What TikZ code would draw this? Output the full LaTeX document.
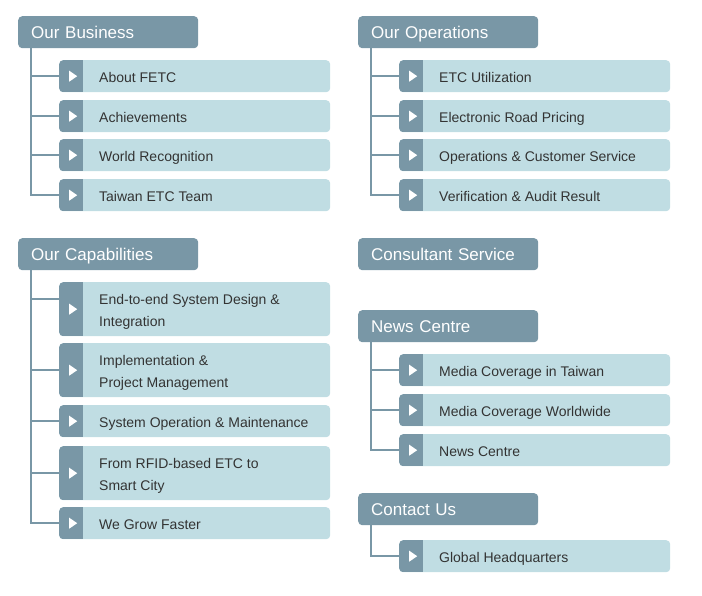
\documentclass[tikz,border=0pt]{standalone}
\usepackage{fontspec}
\setmainfont{Liberation Sans}
\definecolor{hdrc}{RGB}{121,151,166}
\definecolor{itmc}{RGB}{192,221,227}
\definecolor{txtc}{RGB}{51,51,51}
\newcommand\mkitem[5]{%
  \node[itembg, minimum height=#4pt] (#1) at (#2,#3) {};
  \node[itemtxt] (#1t) at ([xshift=40pt,yshift=-1.5pt]#1.west) {\strut #5\strut};
}
\begin{document}
\begin{tikzpicture}[x=1pt,y=-1pt,
  hdr/.style={anchor=north west, rounded corners=4pt, fill=hdrc, text=white,
    font=\fontsize{17}{30}\selectfont, text width=154pt, inner xsep=13pt, inner ysep=0pt,
    minimum height=32pt, align=left, execute at begin node=\strut},
  itembg/.style={anchor=north west, rounded corners=4pt, fill=itmc, minimum width=271pt, inner sep=0pt,
    path picture={
      \fill[hdrc, sharp corners] (path picture bounding box.south west) rectangle ([xshift=24pt]path picture bounding box.north west);
      \fill[white, sharp corners] ([xshift=10pt,yshift=5.5pt]path picture bounding box.west) -- ([xshift=18pt]path picture bounding box.west) -- ([xshift=10pt,yshift=-5.5pt]path picture bounding box.west) -- cycle;
    }},
  itemtxt/.style={anchor=west, inner sep=0pt, text=txtc, align=left, font=\fontsize{14}{22}\selectfont},
  tree/.style={draw=hdrc, line width=2pt}
]
\useasboundingbox (0,0) rectangle (702,596);

% ---- Our Business
\node[hdr] (bh) at (18,16) {Our Business};
\mkitem{b1}{59}{60}{32}{About FETC}
\mkitem{b2}{59}{100}{32}{Achievements}
\mkitem{b3}{59}{139}{32}{World Recognition}
\mkitem{b4}{59}{179}{32}{Taiwan ETC Team}
\coordinate (bv) at ([xshift=13pt]bh.south west);
\draw[tree] (bv) |- (b4.west);
\foreach \i in {b1,b2,b3} \draw[tree] (\i.west) -- (bv |- \i.west);

% ---- Our Capabilities
\node[hdr] (ch) at (18,238) {Our Capabilities};
\mkitem{c1}{59}{282}{54}{End-to-end System Design \&\\Integration}
\mkitem{c2}{59}{343}{54}{Implementation \&\\Project Management}
\mkitem{c3}{59}{405}{32}{System Operation \& Maintenance}
\mkitem{c4}{59}{446}{54}{From RFID-based ETC to\\Smart City}
\mkitem{c5}{59}{507}{32}{We Grow Faster}
\coordinate (cv) at ([xshift=13pt]ch.south west);
\coordinate (c1b) at ([yshift=10pt]c1.west);
\draw[tree] (cv) |- (c5.west);
\draw[tree] (c1b) -- (cv |- c1b);
\foreach \i in {c2,c3,c4} \draw[tree] (\i.west) -- (cv |- \i.west);

% ---- Our Operations
\node[hdr] (oh) at (358,16) {Our Operations};
\mkitem{o1}{399}{60}{32}{ETC Utilization}
\mkitem{o2}{399}{100}{32}{Electronic Road Pricing}
\mkitem{o3}{399}{139}{32}{Operations \& Customer Service}
\mkitem{o4}{399}{179}{32}{Verification \& Audit Result}
\coordinate (ov) at ([xshift=13pt]oh.south west);
\draw[tree] (ov) |- (o4.west);
\foreach \i in {o1,o2,o3} \draw[tree] (\i.west) -- (ov |- \i.west);

% ---- Consultant Service
\node[hdr] (sh) at (358,238) {Consultant Service};

% ---- News Centre
\node[hdr] (nh) at (358,310) {News Centre};
\mkitem{n1}{399}{354}{32}{Media Coverage in Taiwan}
\mkitem{n2}{399}{394}{32}{Media Coverage Worldwide}
\mkitem{n3}{399}{434}{32}{News Centre}
\coordinate (nv) at ([xshift=13pt]nh.south west);
\draw[tree] (nv) |- (n3.west);
\foreach \i in {n1,n2} \draw[tree] (\i.west) -- (nv |- \i.west);

% ---- Contact Us
\node[hdr] (kh) at (358,493) {Contact Us};
\mkitem{k1}{399}{540}{32}{Global Headquarters}
\coordinate (kv) at ([xshift=13pt]kh.south west);
\draw[tree] (kv) |- (k1.west);
\end{tikzpicture}
\end{document}
